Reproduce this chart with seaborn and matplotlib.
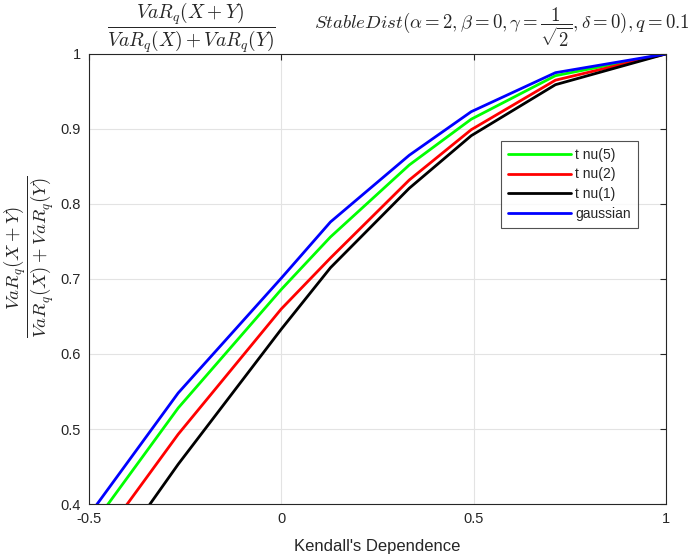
import pandas as pd
import matplotlib
matplotlib.use('Agg')
import matplotlib.pyplot as plt
import seaborn as sns
import numpy as np

# valores (dependencia de Kendall vs razao de VaR)
kendall = [-0.5, -0.268, 0.0, 0.128, 0.333, 0.494, 0.713, 1.0]
gaussian = [0.385, 0.548, 0.701, 0.776, 0.865, 0.923, 0.975, 1.0]
t_nu5 = [0.365, 0.528, 0.686, 0.756, 0.852, 0.913, 0.971, 1.0]
t_nu2 = [0.330, 0.493, 0.660, 0.728, 0.832, 0.899, 0.965, 1.0]
t_nu1 = [0.285, 0.453, 0.633, 0.715, 0.821, 0.891, 0.959, 1.0]

series_names = ['t nu(5)', 't nu(2)', 't nu(1)', 'gaussian']
series_colors = ['#00ff00', '#ff0000', '#000000', '#0000ff']

df = pd.DataFrame({
    'kendall': kendall * 4,
    'ratio': t_nu5 + t_nu2 + t_nu1 + gaussian,
    'serie': [n for n in series_names for _ in kendall],
})

sns.set_style('white')
plt.rcParams['font.family'] = ['Liberation Sans', 'DejaVu Sans']
plt.rcParams['mathtext.fontset'] = 'cm'

fig = plt.figure(figsize=(6.95, 5.56), dpi=100)
ax = fig.add_axes([0.128, 0.0935, 0.83, 0.8095])

sns.lineplot(data=df, x='kendall', y='ratio', hue='serie', hue_order=series_names,
             palette=series_colors, linewidth=2, sort=False, ax=ax)

ax.set_xlim(-0.5, 1)
ax.set_ylim(0.4, 1)
ax.set_xticks([-0.5, 0, 0.5, 1])
ax.set_xticklabels(['-0.5', '0', '0.5', '1'])
ax.set_yticks(np.arange(0.4, 1.01, 0.1))
ax.set_yticklabels(['0.4', '0.5', '0.6', '0.7', '0.8', '0.9', '1'])
ax.grid(True, color='#e3e3e3', linewidth=0.8)
ax.tick_params(direction='in', length=4, top=True, right=True, labelsize=10.5,
               color='#262626', pad=6)
for s in ax.spines.values():
    s.set_color('#262626')
    s.set_linewidth(0.8)

ax.set_xlabel("Kendall's Dependence", fontsize=12, labelpad=9)
ax.set_ylabel(r'$\dfrac{VaR_q(X+Y)}{VaR_q(X)+VaR_q(Y)}$', fontsize=13.5)
ax.yaxis.set_label_coords(-0.058, 0.55)

fig.text(0.275, 0.951, r'$\dfrac{VaR_q(X+Y)}{VaR_q(X)+VaR_q(Y)}$', fontsize=14,
         ha='center', va='center')
fig.text(0.993, 0.951, r'$StableDist(\alpha=2,\beta=0,\gamma=\dfrac{1}{\sqrt{2}},\delta=0),q=0.1$',
         fontsize=13.5, ha='right', va='center')

leg = ax.legend(loc='upper left', bbox_to_anchor=(0.703, 0.822), frameon=True,
                fancybox=False, edgecolor='#262626', fontsize=10, handlelength=4.5,
                borderpad=0.5, labelspacing=0.4, handletextpad=0.3)
leg.get_frame().set_linewidth(0.8)

fig.savefig('out.png', dpi=100)
